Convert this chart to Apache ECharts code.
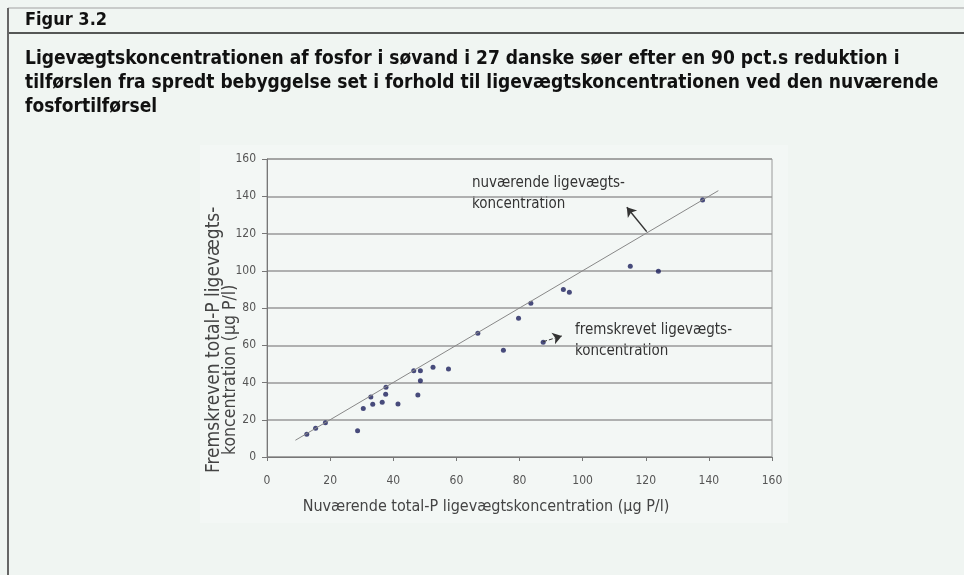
<!DOCTYPE html>
<html>
<head>
<meta charset="utf-8">
<script src="https://cdn.jsdelivr.net/npm/echarts@6/dist/echarts.min.js"></script>
<style>
  html, body { margin: 0; padding: 0; background: #f0f5f2; }
  #chart { width: 964px; height: 575px; }
</style>
</head>
<body>
<div id="chart"></div>
<script>
// Data
const xValues = [12.6, 15.4, 18.5, 28.7, 30.5, 32.9, 33.5, 36.5, 37.6, 37.7, 41.5, 46.5, 48.6, 48.6, 47.8, 52.6, 57.5, 66.8, 74.9, 79.7, 83.6, 87.5, 93.9, 95.8, 115.1, 124.0, 138.0];
const yValues = [12.2, 15.4, 18.4, 14.1, 26.1, 32.2, 28.3, 29.4, 33.7, 37.4, 28.5, 46.3, 46.3, 41.0, 33.3, 48.2, 47.2, 66.4, 57.3, 74.5, 82.5, 61.6, 90.0, 88.4, 102.4, 99.7, 138.0];
const lineX = [9, 143];
const lineY = [9, 143];
const arrow1 = [[120.3, 121.0], [114.0, 134.1]];
const arrow2 = [[87.5, 61.9], [93.4, 65.0]];
const axisTicks = [0, 20, 40, 60, 80, 100, 120, 140, 160];

const figLabel = 'Figur 3.2';
const titleLines = [
  'Ligevægtskoncentrationen af fosfor i søvand i 27 danske søer efter en 90 pct.s reduktion i',
  'tilførslen fra spredt bebyggelse set i forhold til ligevægtskoncentrationen ved den nuværende',
  'fosfortilførsel'
];
const xName = 'Nuværende total-P ligevægtskoncentration (µg P/l)';
const yNameLines = ['Fremskreven total-P ligevægts-', 'koncentration (µg P/l)'];
const note1 = ['nuværende ligevægts-', 'koncentration'];
const note2 = ['fremskrevet ligevægts-', 'koncentration'];

const pts = xValues.map((x, i) => [x, yValues[i]]);
const linePts = lineX.map((x, i) => [x, lineY[i]]);

const condensed = "'Liberation Sans Narrow', 'DejaVu Sans Condensed', sans-serif";

const chart = echarts.init(document.getElementById('chart'), null, { renderer: 'canvas' });
chart.setOption({
  backgroundColor: '#f0f5f2',
  animation: false,
  title: [
    { text: figLabel, left: 20, top: 6,
      textStyle: { fontFamily: condensed, fontWeight: 'bold', fontSize: 18, color: '#111' } },
    { text: titleLines.join('\n'), left: 20, top: 42,
      textStyle: { fontFamily: condensed, fontWeight: 'bold', fontSize: 19, lineHeight: 24, color: '#111' } }
  ],
  graphic: [
    { type: 'rect', z: -10, shape: { x: 200, y: 145, width: 588, height: 378 }, style: { fill: '#f3f7f5' } },
    { type: 'line', shape: { x1: 8, y1: 8, x2: 964, y2: 8 }, style: { stroke: '#bdbdbd', lineWidth: 1.5 } },
    { type: 'line', shape: { x1: 8, y1: 33, x2: 964, y2: 33 }, style: { stroke: '#222', lineWidth: 1.5 } },
    { type: 'line', shape: { x1: 8, y1: 8, x2: 8, y2: 575 }, style: { stroke: '#666', lineWidth: 2 } },
    { type: 'text', x: 214, y: 473, rotation: Math.PI / 2,
      style: { text: yNameLines[0], fontFamily: condensed, fontSize: 19,
               fill: '#444', textAlign: 'left', textVerticalAlign: 'middle' } },
    { type: 'text', x: 230, y: 455, rotation: Math.PI / 2,
      style: { text: yNameLines[1], fontFamily: condensed, fontSize: 17.5,
               fill: '#444', textAlign: 'left', textVerticalAlign: 'middle' } },
    { type: 'text', x: 486, y: 507,
      style: { text: xName, fontFamily: condensed, fontSize: 16, fill: '#444',
               textAlign: 'center', textVerticalAlign: 'middle' } },
    { type: 'text', x: 472, y: 173,
      style: { text: note1.join('\n'), fontFamily: condensed, fontSize: 15, lineHeight: 21, fill: '#333' } },
    { type: 'text', x: 575, y: 320,
      style: { text: note2.join('\n'), fontFamily: condensed, fontSize: 15, lineHeight: 21, fill: '#333' } }
  ],
  grid: { left: 267, top: 159, right: 192, bottom: 118, containLabel: false, outerBoundsMode: 'none',
          show: true, borderColor: '#9a9a9a', borderWidth: 1, backgroundColor: 'transparent' },
  xAxis: {
    type: 'value', min: axisTicks[0], max: axisTicks[axisTicks.length - 1], interval: 20,
    axisLine: { show: true, lineStyle: { color: '#777', width: 1 } },
    axisTick: { show: true, length: 4, lineStyle: { color: '#777' } },
    axisLabel: { fontFamily: condensed, fontSize: 12, color: '#555', margin: 18 },
    splitLine: { show: false }
  },
  yAxis: {
    type: 'value', min: axisTicks[0], max: axisTicks[axisTicks.length - 1], interval: 20,
    axisLine: { show: true, lineStyle: { color: '#777', width: 1 } },
    axisTick: { show: true, length: 5, lineStyle: { color: '#777' } },
    axisLabel: { fontFamily: condensed, fontSize: 12, color: '#555', margin: 11 },
    splitLine: { show: true, lineStyle: { color: '#999', width: 1.5 } }
  },
  series: [
    {
      type: 'line', data: linePts, symbol: 'none', silent: true,
      lineStyle: { color: '#888', width: 1 },
      markLine: {
        silent: true, symbol: ['none', 'arrow'], symbolSize: 9,
        label: { show: false },
        lineStyle: { color: '#333', width: 1.5, type: 'solid' },
        data: [
          [{ coord: arrow1[0] }, { coord: arrow1[1] }],
          [{ coord: arrow2[0], lineStyle: { type: 'dashed', width: 1, color: '#333' } }, { coord: arrow2[1] }]
        ]
      }
    },
    {
      type: 'scatter', data: pts, symbolSize: 5,
      itemStyle: { color: '#1c1f5c' }
    }
  ]
});
</script>
</body>
</html>
